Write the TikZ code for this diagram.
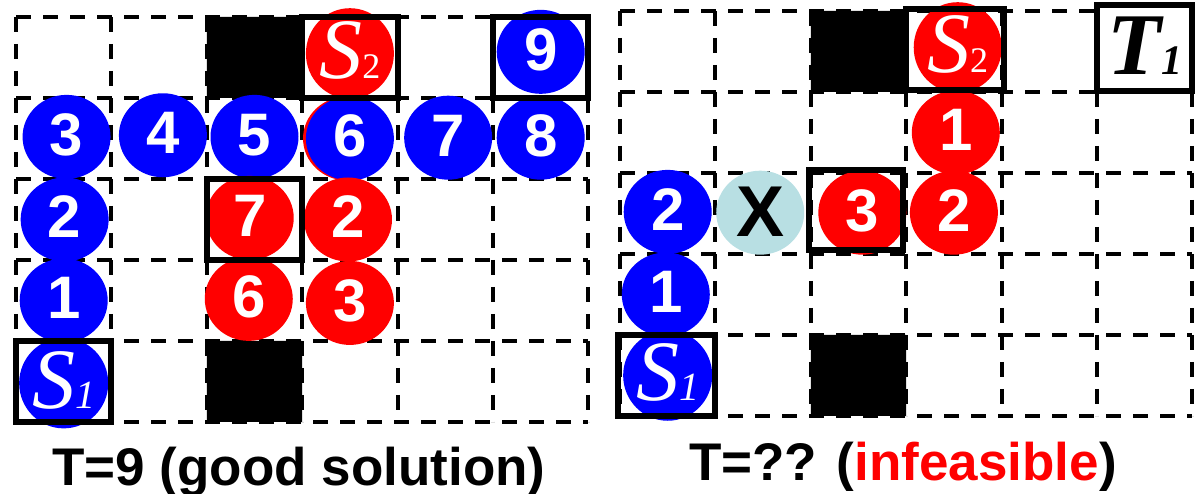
\documentclass[tikz,border=0pt]{standalone}
\usepackage{fontspec}
\setmainfont{Liberation Serif}
\setsansfont{Liberation Sans}
\usetikzlibrary{shapes.geometric}
\definecolor{xblue}{RGB}{184,223,227}
\begin{document}
\begin{tikzpicture}[x=1pt,y=-1pt,
    gridline/.style={dash pattern=on 15pt off 12pt,line width=4pt},
    cellbox/.style={line width=6pt},
    dot/.style={ellipse,inner sep=0pt,minimum width=88pt,minimum height=84pt,text=white,
      font=\sffamily\bfseries\fontsize{60}{60}\selectfont,text height=43pt,text depth=6pt},
    bdot/.style={dot,fill=blue},
    rdot/.style={dot,fill=red},
    xdot/.style={dot,fill=xblue,text=black,font=\sffamily\bfseries\fontsize{72}{72}\selectfont,
      text height=52pt,text depth=4pt},
    sdot/.style={font=\fontsize{86}{86}\selectfont,text height=57pt,text depth=7pt},
    caption/.style={anchor=base,font=\sffamily\bfseries\fontsize{53}{53}\selectfont}]
  \useasboundingbox (0,0) rectangle (1195,494);
  % left board
  \begin{scope}[shift={(16,17)},x=95.4pt,y=-81pt]
    \fill (2,0) rectangle (3,1) (2,4) rectangle (3,5);
    \foreach \i in {0,...,6} \draw[gridline] (\i,0) -- (\i,5);
    \foreach \j in {0,...,5} \draw[gridline] (0,\j) -- (6,\j);
    \node[rdot] (lr1) at (3.47,1.5) {};
    \node[bdot] (lb3) at (0.53,1.48) {3};
    \node[bdot] (lb4) at (1.54,1.46) {4};
    \node[bdot] (lb5) at (2.5,1.48) {5};
    \node[bdot] (lb6) at (3.5,1.5) {6};
    \node[bdot] (lb7) at (4.53,1.49) {7};
    \node[bdot] (lb8) at (5.5,1.49) {8};
    \node[bdot] (lb9) at (5.5,0.43) {9};
    \node[bdot] (lb2) at (0.51,2.5) {2};
    \node[bdot] (lb1) at (0.5,3.5) {1};
    \node[bdot,sdot] (ls1) at (0.5,4.52) {\itshape S{\fontsize{40}{40}\selectfont 1}};
    \node[rdot,sdot] (ls2) at (3.5,0.45) {\itshape S{\upshape\fontsize{36}{36}\selectfont 2}};
    \node[rdot] (lr2) at (3.48,2.5) {2};
    \node[rdot] (lr3) at (3.5,3.53) {3};
    \node[rdot] (lr6) at (2.44,3.48) {6};
    \node[rdot] (lr7) at (2.45,2.48) {7};
    \draw[cellbox] (3,0) rectangle (4,1) (5,0) rectangle (6,1)
      (2,2) rectangle (3,3) (0,4) rectangle (1,5);
  \end{scope}
  % right board
  \begin{scope}[shift={(620,11)},x=95.4pt,y=-81pt]
    \fill (2,0) rectangle (3,1) (2,4) rectangle (3,5);
    \foreach \i in {0,...,6} \draw[gridline] (\i,0) -- (\i,5);
    \foreach \j in {0,...,5} \draw[gridline] (0,\j) -- (6,\j);
    \node[bdot] (rb2) at (0.5,2.48) {2};
    \node[xdot] (rx) at (1.47,2.49) {X};
    \node[rdot] (rr3) at (2.54,2.49) {3};
    \node[rdot] (rr2) at (3.5,2.49) {2};
    \node[rdot] (rr1) at (3.52,1.5) {1};
    \node[rdot,sdot] (rs2) at (3.54,0.45) {\itshape S{\upshape\fontsize{36}{36}\selectfont 2}};
    \node[bdot] (rb1) at (0.48,3.5) {1};
    \node[bdot,sdot] (rs1) at (0.5,4.5) {\itshape S{\fontsize{40}{40}\selectfont 1}};
    \draw[cellbox,fill=white] (5,-0.07) rectangle (6,0.99);
    \node[sdot,font=\bfseries\itshape\fontsize{88}{88}\selectfont] (rt1) at (5.5,0.47)
      {T{\fontsize{42}{42}\selectfont 1}};
    \draw[cellbox] (3,-0.03) rectangle (4.02,0.98)
      (1.98,1.96) rectangle (2.97,2.95) (-0.02,4) rectangle (1,5);
  \end{scope}
  \node[caption] (capl) at (299,485) {T=9 (good solution)};
  \node[caption] (capr) at (903,480) {T=?? (\textcolor{red}{infeasible})};
\end{tikzpicture}
\end{document}
